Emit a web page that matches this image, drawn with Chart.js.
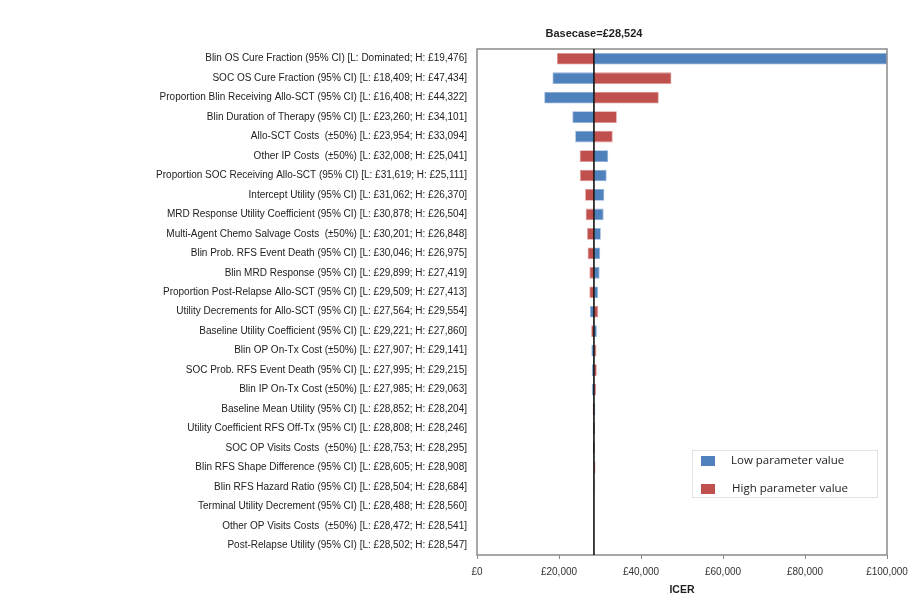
<!DOCTYPE html>
<html>
<head>
<meta charset="utf-8">
<title>ICER tornado</title>
<script src="https://cdn.jsdelivr.net/npm/chart.js@4/dist/chart.umd.min.js"></script>
<style>
  html, body { margin: 0; padding: 0; background: #fff; }
  #wrap { width: 917px; height: 600px; }
</style>
</head>
<body>
<div id="wrap"><canvas id="myChart" width="917" height="600"></canvas></div>
<script>
const basecase = 28524;

const params = [
  'Blin OS Cure Fraction (95% CI)',
  'SOC OS Cure Fraction (95% CI)',
  'Proportion Blin Receiving Allo-SCT (95% CI)',
  'Blin Duration of Therapy (95% CI)',
  'Allo-SCT Costs  (±50%)',
  'Other IP Costs  (±50%)',
  'Proportion SOC Receiving Allo-SCT (95% CI)',
  'Intercept Utility (95% CI)',
  'MRD Response Utility Coefficient (95% CI)',
  'Multi-Agent Chemo Salvage Costs  (±50%)',
  'Blin Prob. RFS Event Death (95% CI)',
  'Blin MRD Response (95% CI)',
  'Proportion Post-Relapse Allo-SCT (95% CI)',
  'Utility Decrements for Allo-SCT (95% CI)',
  'Baseline Utility Coefficient (95% CI)',
  'Blin OP On-Tx Cost (±50%)',
  'SOC Prob. RFS Event Death (95% CI)',
  'Blin IP On-Tx Cost (±50%)',
  'Baseline Mean Utility (95% CI)',
  'Utility Coefficient RFS Off-Tx (95% CI)',
  'SOC OP Visits Costs  (±50%)',
  'Blin RFS Shape Difference (95% CI)',
  'Blin RFS Hazard Ratio (95% CI)',
  'Terminal Utility Decrement (95% CI)',
  'Other OP Visits Costs  (±50%)',
  'Post-Relapse Utility (95% CI)',
];

// ICER at the low / high end of each parameter range (null = dominated)
const lowIcer = [
  null, 18409, 16408, 23260, 23954, 32008, 31619, 31062, 30878, 30201,
  30046, 29899, 29509, 27564, 29221, 27907, 27995, 27985, 28852, 28808,
  28753, 28605, 28504, 28488, 28472, 28502,
];
const highIcer = [
  19476, 47434, 44322, 34101, 33094, 25041, 25111, 26370, 26504, 26848,
  26975, 27419, 27413, 29554, 27860, 29141, 29215, 29063, 28204, 28246,
  28295, 28908, 28684, 28560, 28541, 28547,
];

const xTicks = [0, 20000, 40000, 60000, 80000, 100000];
const xMax = 100000;

const gbp = v => '£' + Number(v).toLocaleString('en-GB');

const labels = params.map((p, i) =>
  p + ' [L: ' + (lowIcer[i] === null ? 'Dominated' : gbp(lowIcer[i])) + '; H: ' + gbp(highIcer[i]) + ']'
);

const BLUE = '#4F81BD';
const RED = '#C0504D';
const FONT = "'Liberation Sans', Arial, sans-serif";

// border round the plot, basecase line + caption, legend box
const decor = {
  id: 'decor',
  afterDatasetsDraw(chart) {
    const { ctx, chartArea: a, scales } = chart;
    const bx = scales.x.getPixelForValue(basecase);
    ctx.save();
    ctx.strokeStyle = '#8a8a8a';
    ctx.lineWidth = 1.5;
    ctx.strokeRect(a.left, a.top, a.right - a.left, a.bottom - a.top);

    ctx.strokeStyle = '#000';
    ctx.lineWidth = 1.5;
    ctx.beginPath();
    ctx.moveTo(bx, a.top);
    ctx.lineTo(bx, a.bottom);
    ctx.stroke();

    ctx.fillStyle = '#1f1f1f';
    ctx.font = "bold 11px 'Liberation Sans', sans-serif";
    ctx.textAlign = 'center';
    ctx.textBaseline = 'middle';
    ctx.fillText('Basecase=' + gbp(basecase), bx, a.top - 15);

    // legend
    const lx = a.right - 195, ly = a.top + 401, lw = 185, lh = 47;
    ctx.fillStyle = '#fff';
    ctx.fillRect(lx, ly, lw, lh);
    ctx.strokeStyle = '#e2e2e2';
    ctx.lineWidth = 1;
    ctx.strokeRect(lx + 0.5, ly + 0.5, lw, lh);
    ctx.font = "11.5px 'Open Sans', sans-serif";
    ctx.textAlign = 'left';
    chart.data.datasets.forEach((ds, i) => {
      const y = ly + 10 + i * 28;
      ctx.fillStyle = ds.backgroundColor;
      ctx.fillRect(lx + 9, y - 4, 14, 10);
      ctx.fillStyle = '#222';
      ctx.fillText(ds.label, lx + 39 + i, y + 1);
    });
    ctx.restore();
  }
};

const data = {
  labels: labels,
  datasets: [
    {
      label: 'Low parameter value',
      data: lowIcer.map(v => [basecase, v === null ? xMax : v]),
      backgroundColor: BLUE,
      borderColor: '#8fb0d8',
      borderWidth: 0.8,
      borderSkipped: false,
    },
    {
      label: 'High parameter value',
      data: highIcer.map(v => [basecase, v]),
      backgroundColor: RED,
      borderColor: '#d99694',
      borderWidth: 0.8,
      borderSkipped: false,
    },
  ],
};

const config = {
  type: 'bar',
  data: data,
  plugins: [decor],
  options: {
    indexAxis: 'y',
    responsive: false,
    animation: false,
    layout: { padding: { top: 49, right: 30, left: 0, bottom: 0 } },
    datasets: {
      bar: { grouped: false, categoryPercentage: 1, barPercentage: 0.6 },
    },
    plugins: {
      legend: { display: false },
      tooltip: { enabled: false },
    },
    scales: {
      x: {
        min: 0,
        max: xMax,
        afterBuildTicks: s => { s.ticks = xTicks.map(v => ({ value: v })); },
        afterFit: s => { s.height = 45; },
        grid: { drawOnChartArea: false, tickLength: 4, color: '#8a8a8a' },
        border: { display: false },
        ticks: {
          padding: 7,
          color: '#333',
          font: { family: FONT, size: 10 },
          callback: v => gbp(v),
          maxRotation: 0,
        },
        title: {
          display: true,
          text: 'ICER',
          color: '#1f1f1f',
          font: { family: FONT, size: 10.5, weight: 'bold' },
          padding: { top: 2, bottom: 4 },
        },
      },
      y: {
        afterFit: s => { s.width = 477; },
        grid: { display: false, drawTicks: false, tickLength: 0 },
        border: { display: false },
        ticks: {
          padding: 10,
          color: '#222',
          autoSkip: false,
          font: { family: FONT, size: 10 },
        },
      },
    },
  },
};

const myChart = new Chart(document.getElementById('myChart'), config);
</script>
</body>
</html>
